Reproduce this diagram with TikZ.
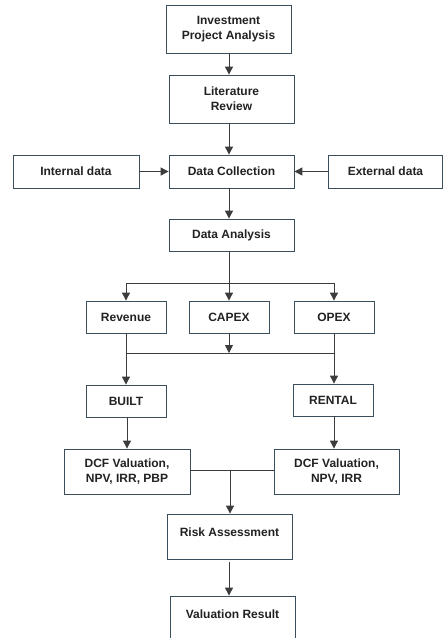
\documentclass[tikz,border=0pt]{standalone}
\usepackage{fontspec}
\setmainfont{Liberation Sans}
\usetikzlibrary{arrows.meta}
\definecolor{boxline}{RGB}{58,78,92}
\definecolor{arrline}{RGB}{60,60,60}
\definecolor{txt}{RGB}{34,34,34}

\begin{document}
\begin{tikzpicture}[x=1pt, y=-1pt,
    stepbox/.style={draw=boxline, line width=0.8pt, fill=white, text=txt,
                    font=\bfseries\fontsize{12}{14.6}\selectfont, align=center,
                    inner sep=0pt, minimum width=#1},
    stepbox/.default=125pt,
    topbox/.style={stepbox, minimum height=45pt, text height=8pt, text depth=8pt},
    flow/.style={draw=arrline, line width=0.9pt, -{Triangle[width=8pt, length=8pt]}},
    link/.style={draw=arrline, line width=0.9pt}]
      \useasboundingbox (0,0) rectangle (443,638);
      % boxes
      \node[stepbox, minimum height=48pt] (inv) at (228.5, 29) {Investment\\Project Analysis};
      \node[stepbox, minimum height=48pt] (lit) at (231.5, 99) {Literature\\Review};
      \node[stepbox, minimum height=33pt] (coll) at (231.5, 171.5) {Data Collection};
      \node[stepbox=126pt, minimum height=33pt] (intd) at (76, 171.5) {Internal data};
      \node[stepbox=114pt, minimum height=33pt] (extd) at (385.5, 171.5) {External data};
      \node[stepbox, minimum height=32pt] (ana) at (231.5, 235) {Data Analysis};
      \node[stepbox=80pt, minimum height=32pt] (rev) at (126, 317) {Revenue};
      \node[stepbox=80pt, minimum height=32pt] (capex) at (229, 317) {CAPEX};
      \node[stepbox=80pt, minimum height=32pt] (opex) at (334, 317) {OPEX};
      \node[stepbox=80pt, minimum height=32pt] (built) at (126, 401) {BUILT};
      \node[stepbox=80pt, minimum height=32pt] (rental) at (333, 400) {RENTAL};
      \node[stepbox=126pt, minimum height=45pt] (dcfl) at (127, 471.5) {DCF Valuation,\\NPV, IRR, PBP};
      \node[stepbox, minimum height=45pt] (dcfr) at (336.5, 471.5) {DCF Valuation,\\NPV, IRR};
      \node[topbox] (risk) at (229.5, 536.5) {Risk Assessment};
      \node[topbox] (res) at (232.5, 618.5) {Valuation Result};
      % connectors
      \coordinate (axis) at (229, 0);
      \coordinate (leftaxis) at (127, 0);
      \coordinate (rightaxis) at (334, 0);
      \coordinate (split) at (229, 283);
      \coordinate (merge) at (229, 353);
      \coordinate (meet) at (230, 470);
      \coordinate (riskout) at (229, 562);
      \draw[flow] (axis |- inv.south) -- (axis |- lit.north);
      \draw[flow] (axis |- lit.south) -- (axis |- coll.north);
      \draw[flow] (intd.east) -- (coll.west);
      \draw[flow] (extd.west) -- (coll.east);
      \draw[flow] (axis |- coll.south) -- (axis |- ana.north);
      \draw[link] (axis |- ana.south) -- (split);
      \draw[link] (rev.north |- split) -- (opex.north |- split);
      \draw[flow] (rev.north |- split) -- (rev.north);
      \draw[flow] (split) -- (capex.north);
      \draw[flow] (opex.north |- split) -- (opex.north);
      \draw[flow] (rev.south) -- (built.north);
      \draw[flow] (opex.south) -- (opex.south |- rental.north);
      \draw[link] (rev.south |- merge) -- (opex.south |- merge);
      \draw[flow] (capex.south) -- (merge);
      \draw[flow] (leftaxis |- built.south) -- (leftaxis |- dcfl.north);
      \draw[flow] (rightaxis |- rental.south) -- (rightaxis |- dcfr.north);
      \draw[link] (dcfl.east |- meet) -- (dcfr.west |- meet);
      \draw[flow] (meet) -- (meet |- risk.north);
      \draw[flow] (riskout) -- (riskout |- res.north);
    \end{tikzpicture}
\end{document}
